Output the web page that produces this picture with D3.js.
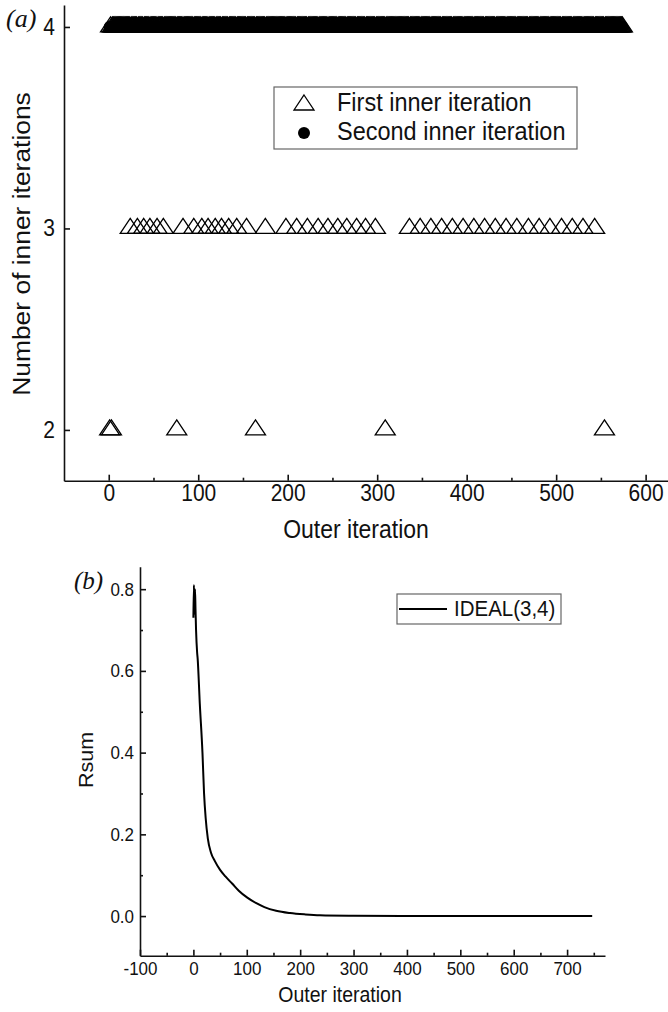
<!DOCTYPE html>
<html>
<head>
<meta charset="utf-8">
<script src="https://cdn.jsdelivr.net/npm/d3@7/dist/d3.min.js"></script>
<style>
  body { margin: 0; background: #fff; }
  svg text { font-family: "Liberation Sans", Arial, sans-serif; fill: #111; }
</style>
</head>
<body>
<div id="chart"></div>
<script>
// ---- panel (a): inner iterations per outer iteration ----
const firstOuter = 1;
const lastOuter = 574;
const firstInnerTwo = [1, 3, 76, 164, 309, 554];
const firstInnerThree = [24, 32, 39, 46, 54, 61, 83, 95, 104, 111, 119, 126, 134, 143, 154, 175,
  198, 210, 222, 234, 245, 256, 266, 277, 287, 298,
  336, 348, 360, 372, 384, 396, 408, 420, 432, 444, 456, 469, 481, 493, 506, 518, 530, 543];
const secondInnerCount = 4;
const topXTicks = [0, 100, 200, 300, 400, 500, 600];
const topYTicks = [2, 3, 4];
const topLegend = ["First inner iteration", "Second inner iteration"];

// ---- panel (b): Rsum convergence ----
const rsumIter = [0, 1, 2, 3, 4, 5, 7, 8, 12, 17, 20, 23, 27, 33, 40, 50, 60, 73, 85, 101, 117, 133, 155, 181, 210, 237, 300, 400, 500, 600, 747];
const rsumValue = [0.73, 0.81, 0.74, 0.80, 0.75, 0.70, 0.645, 0.63, 0.52, 0.40, 0.30, 0.24, 0.19, 0.155, 0.135, 0.113, 0.097, 0.079, 0.062, 0.045, 0.032, 0.022, 0.013, 0.0074, 0.004, 0.002, 0.0008, 0.0002, 0.0001, 0, 0];
const botXTicks = [-100, 0, 100, 200, 300, 400, 500, 600, 700];
const botYTicks = [0.0, 0.2, 0.4, 0.6, 0.8];
const botLegend = "IDEAL(3,4)";

const W = 668, H = 1012;
const k = 1.1; // the figure is a bit stretched vertically

const svg = d3.select("#chart").append("svg")
  .attr("width", W).attr("height", H);

function label(x, y, txt, size, anchor, rotate) {
  return svg.append("text")
    .attr("transform", `translate(${x},${y}) scale(1,${k})` + (rotate ? " rotate(-90)" : ""))
    .attr("text-anchor", anchor || "start")
    .style("font-size", size + "px")
    .text(txt);
}

function styleAxis(g, size) {
  g.selectAll("path, line").attr("stroke", "#111").attr("stroke-width", 1.6);
  g.selectAll("text").style("font-size", size + "px")
    .style("font-family", "'Liberation Sans', Arial, sans-serif").attr("fill", "#111");
}

function triPath(w, h) {
  return `M0,${-2 * h / 3}L${w / 2},${h / 3}L${-w / 2},${h / 3}Z`;
}

function inDomain(scale) {
  const [a, b] = d3.extent(scale.domain());
  return v => v >= a && v <= b;
}

// ================= panel (a) =================
const x1 = d3.scaleLinear().domain([-50, 625]).range([64, 668]);
const y1 = d3.scaleLinear().domain([1.748, 4.109]).range([480.7, 5]);

const outerIters = d3.range(firstOuter, lastOuter + 1);
const firstInner = outerIters.map(i => ({
  iter: i,
  n: firstInnerTwo.includes(i) ? 2 : (firstInnerThree.includes(i) ? 3 : 4)
}));
firstInnerTwo.concat(firstInnerThree).forEach(i => {
  if (i < firstOuter) firstInner.push({ iter: i, n: firstInnerTwo.includes(i) ? 2 : 3 });
});

const gA = svg.append("g");

gA.selectAll("circle.second")
  .data(outerIters)
  .join("circle")
  .attr("cx", d => x1(d))
  .attr("cy", y1(secondInnerCount))
  .attr("r", 6)
  .attr("fill", "#000");

gA.selectAll("path.first")
  .data(firstInner)
  .join("path")
  .attr("d", triPath(20, 15))
  .attr("transform", d => `translate(${x1(d.iter)},${y1(d.n)})`)
  .attr("fill", "none")
  .attr("stroke", "#000")
  .attr("stroke-width", 1.3);

const ax1 = svg.append("g")
  .attr("transform", `translate(0,${y1.range()[0]})`)
  .call(d3.axisBottom(x1).tickValues(topXTicks).tickSize(-6).tickSizeOuter(0).tickPadding(4));
styleAxis(ax1, 21);
ax1.selectAll(".tick text").attr("y", 4 / k).attr("transform", `scale(1,${k})`);

svg.append("g")
  .attr("transform", `translate(0,${y1.range()[0]})`)
  .call(d3.axisBottom(x1).tickValues(topXTicks.map(d => d + 50).filter(inDomain(x1))).tickSize(-3).tickFormat(""))
  .call(g => g.select(".domain").remove())
  .call(g => styleAxis(g, 10));

const ay1 = svg.append("g")
  .attr("transform", `translate(${x1.range()[0]},0)`)
  .call(d3.axisLeft(y1).tickValues(topYTicks).tickFormat(d3.format("d")).tickSize(-6).tickSizeOuter(0).tickPadding(9));
styleAxis(ay1, 21);
ay1.selectAll(".tick text").attr("transform", `scale(1,${k})`);

// legend (a)
svg.append("rect")
  .attr("x", 274).attr("y", 87).attr("width", 303).attr("height", 62)
  .attr("fill", "#fff").attr("stroke", "#666").attr("stroke-width", 1.2);
svg.append("path")
  .attr("d", triPath(20, 15))
  .attr("transform", "translate(304,105)")
  .attr("fill", "none").attr("stroke", "#000").attr("stroke-width", 1.3);
svg.append("circle").attr("cx", 304).attr("cy", 133).attr("r", 6).attr("fill", "#000");
label(337, 111, topLegend[0], 23.5);
label(337, 140, topLegend[1], 23.5);

label(356, 538, "Outer iteration", 23, "middle");
label(30, 244, "Number of inner iterations", 24, "middle", true);
svg.append("text")
  .attr("x", 6).attr("y", 27)
  .style("font-family", "'Liberation Serif', 'Times New Roman', serif")
  .style("font-style", "italic").style("font-size", "26px")
  .text("(a)");

// ================= panel (b) =================
const x2 = d3.scaleLinear().domain([-100, 771]).range([140, 605]);
const y2 = d3.scaleLinear().domain([-0.097, 0.855]).range([955.7, 566.7]);

const rsum = rsumIter.map((d, i) => ({ iter: d, v: rsumValue[i] }));

const ax2 = svg.append("g")
  .attr("transform", `translate(0,${y2.range()[0]})`)
  .call(d3.axisBottom(x2).tickValues(botXTicks).tickSize(-6).tickSizeOuter(0).tickPadding(6)
    .tickFormat(d => d));
styleAxis(ax2, 17);
ax2.selectAll(".tick text").attr("y", 6 / k).attr("transform", `scale(1,${k})`);

svg.append("g")
  .attr("transform", `translate(0,${y2.range()[0]})`)
  .call(d3.axisBottom(x2).tickValues(botXTicks.map(d => d + 50).filter(inDomain(x2))).tickSize(-3).tickFormat(""))
  .call(g => g.select(".domain").remove())
  .call(g => styleAxis(g, 10));

const ay2 = svg.append("g")
  .attr("transform", `translate(${x2.range()[0]},0)`)
  .call(d3.axisLeft(y2).tickValues(botYTicks).tickFormat(d3.format(".1f")).tickSize(-6).tickSizeOuter(0).tickPadding(6));
styleAxis(ay2, 17);
ay2.selectAll(".tick text").attr("transform", `scale(1,${k})`);

svg.append("g")
  .attr("transform", `translate(${x2.range()[0]},0)`)
  .call(d3.axisLeft(y2).tickValues(botYTicks.map(d => d + 0.1).filter(inDomain(y2))).tickSize(-3).tickFormat(""))
  .call(g => g.select(".domain").remove())
  .call(g => styleAxis(g, 10));

svg.append("path")
  .datum(rsum)
  .attr("d", d3.line().x(d => x2(d.iter)).y(d => y2(d.v)).curve(d3.curveMonotoneX))
  .attr("fill", "none")
  .attr("stroke", "#000")
  .attr("stroke-width", 2);

// legend (b)
svg.append("rect")
  .attr("x", 397).attr("y", 594).attr("width", 164).attr("height", 30)
  .attr("fill", "#fff").attr("stroke", "#666").attr("stroke-width", 1.2);
svg.append("line")
  .attr("x1", 399).attr("x2", 447).attr("y1", 609).attr("y2", 609)
  .attr("stroke", "#000").attr("stroke-width", 2);
label(454, 616, botLegend, 20.5);

label(340, 1002, "Outer iteration", 19.5, "middle");
label(93, 760, "Rsum", 19.5, "middle", true);
svg.append("text")
  .attr("x", 74).attr("y", 589)
  .style("font-family", "'Liberation Serif', 'Times New Roman', serif")
  .style("font-style", "italic").style("font-size", "25px")
  .text("(b)");
</script>
</body>
</html>
